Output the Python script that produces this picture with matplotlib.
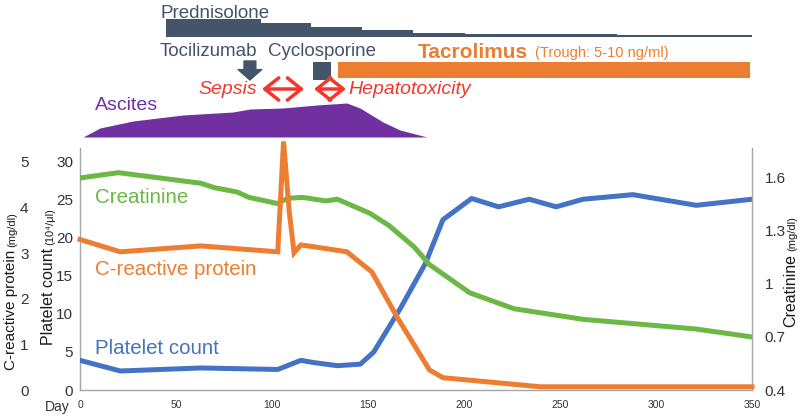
import matplotlib
matplotlib.use("Agg")
import matplotlib.pyplot as plt
from matplotlib.transforms import IdentityTransform

plt.rcParams['font.family'] = ['Liberation Sans', 'DejaVu Sans']

# lab values over the course (day of illness)
plt_days = [0, 21, 63, 103, 115, 122, 134, 146, 153, 167, 180, 189, 204, 218, 234, 248, 262, 288, 321, 350]
platelet = [3.9, 2.5, 2.9, 2.7, 3.9, 3.6, 3.2, 3.4, 5.0, 10.8, 16.7, 22.4, 25.2, 24.1, 25.1, 24.1, 25.1, 25.7, 24.3, 25.1]

crp_days = [0, 21, 63, 103, 106, 109, 111.5, 115, 122, 139, 152, 165, 182, 189, 240, 350]
crp = [3.3, 3.03, 3.16, 3.03, 5.45, 3.9, 3.01, 3.18, 3.14, 3.03, 2.59, 1.61, 0.44, 0.27, 0.07, 0.07]

cre_days = [0, 20, 63, 70, 82, 88, 103, 108, 116, 128, 134, 151, 161, 174, 182, 203, 226, 262, 321, 350]
creatinine = [1.60, 1.63, 1.57, 1.545, 1.52, 1.49, 1.455, 1.485, 1.49, 1.47, 1.48, 1.40, 1.33, 1.21, 1.11, 0.95, 0.86, 0.80, 0.745, 0.70]

# treatment timeline (relative scale for the tapering dose)
pred_days = [44.8, 94.3, 120.3, 146.9, 173.4, 200.3, 279.5, 350]
pred_dose = [18, 14.5, 10.5, 7, 4.5, 3, 2, 2]
toci_day = 88.5
cyclo_days = [121.4, 130.8]
tacro_days = [134.4, 349]

asc_days = [1.6, 10.4, 27.6, 53.6, 79.7, 88.5, 105.7, 123.4, 139, 145.8, 157.8, 166.7, 180.7]
ascites = [0, 9, 16, 22, 25, 28, 29, 32, 34, 29, 15, 7, 0]

x_ticks = [0, 50, 100, 150, 200, 250, 300, 350]
plt_ticks = [0, 5, 10, 15, 20, 25, 30]
crp_ticks = [0, 1, 2, 3, 4, 5]
cre_ticks = [0.4, 0.7, 1.0, 1.3, 1.6]
cre_labels = ['0.4', '0.7', '1', '1.3', '1.6']

slate = '#44546a'
orange = '#ed7d31'
green = '#6bb845'
blue = '#4472c4'
red = '#f2382c'
purple = '#7030a0'
grey = '#a6a6a6'

fig = plt.figure(figsize=(8, 4.16), dpi=100)

# ---- top timeline panel ----
top = fig.add_axes([0.1, 268 / 416, 0.84, 148 / 416])
top.set_xlim(0, 350)
top.set_ylim(0, 148)
top.axis('off')

base = 111
top.fill_between(pred_days, base, [base + d for d in pred_dose], step='post', color=slate, lw=0)
top.text(41.7, 135, 'Prednisolone', color=slate, fontsize=13.5, va='center')
top.text(41.7, 96, 'Tocilizumab', color=slate, fontsize=13.5, va='center')
top.text(98.1, 96, 'Cyclosporine', color=slate, fontsize=13.5, va='center')
top.text(176, 96, 'Tacrolimus', color=orange, fontsize=15, fontweight='bold', va='center')
top.text(237, 95, '(Trough: 5-10 ng/ml)', color=orange, fontsize=10.5, va='center')

top.annotate('', xy=(toci_day, 68), xytext=(toci_day, 87),
             arrowprops=dict(arrowstyle='simple,head_length=0.75,head_width=1.7,tail_width=0.85',
                             mutation_scale=10, color=slate, shrinkA=0, shrinkB=0))
top.fill_between(cyclo_days, 68, 86, color=slate, lw=0)
top.fill_between(tacro_days, 70, 86, color=orange, lw=0)

top.text(61.5, 58, 'Sepsis', color=red, fontsize=14, style='italic', va='center')
top.annotate('', xy=(94.8, 59), xytext=(116.7, 59),
             arrowprops=dict(arrowstyle='<->,head_length=0.5,head_width=0.4', mutation_scale=20,
                             color=red, lw=2.5, shrinkA=0, shrinkB=0))
top.annotate('', xy=(121.9, 59), xytext=(138.5, 59),
             arrowprops=dict(arrowstyle='<->,head_length=0.5,head_width=0.4', mutation_scale=20,
                             color=red, lw=2.5, shrinkA=0, shrinkB=0))
top.text(139.6, 58, 'Hepatotoxicity', color=red, fontsize=14, style='italic', va='center')

top.fill_between(asc_days, 11, [11 + a for a in ascites], color=purple, lw=0)
top.text(7.8, 43, 'Ascites', color=purple, fontsize=14, va='center')

# ---- main chart ----
ax = fig.add_axes([0.1, 26 / 416, 0.84, 242 / 416])
ax.patch.set_alpha(0)
ax_cre = ax.twinx()
ax_crp = ax.twinx()

ax.plot(plt_days, platelet, color=blue, lw=3.6, solid_joinstyle='round', zorder=3)
ax_cre.plot(cre_days, creatinine, color=green, lw=3.6, solid_joinstyle='round')
ax_crp.plot(crp_days, crp, color=orange, lw=3.6, solid_joinstyle='miter', clip_on=False)

ax.set_xlim(0, 350)
ax.set_ylim(0, 31.84)
ax_cre.set_ylim(0.4, 0.4 + 242 / 176.7)
ax_crp.set_ylim(0, 31.84 / 6)

ax.set_xticks(x_ticks)
ax.set_yticks(plt_ticks)
ax_cre.set_yticks(cre_ticks)
ax_cre.set_yticklabels(cre_labels)
ax_crp.set_yticks(crp_ticks)

# CRP scale sits left of the platelet scale
ax_crp.yaxis.tick_left()
ax_crp.spines['left'].set_position(('outward', 34))
for a in (ax, ax_cre, ax_crp):
    a.spines['top'].set_visible(False)
for s in ('left', 'right', 'bottom'):
    ax_crp.spines[s].set_visible(False)
ax.spines['right'].set_visible(False)
ax_cre.spines['left'].set_visible(False)
ax_cre.spines['bottom'].set_visible(False)
for sp in (ax.spines['left'], ax.spines['bottom'], ax_cre.spines['right']):
    sp.set_color(grey)
    sp.set_linewidth(1)

ax.tick_params(axis='y', length=0, labelsize=11, pad=5, labelcolor='#333333')
ax.tick_params(axis='x', length=0, labelsize=7.5, pad=7, labelcolor='#333333')
ax_cre.tick_params(axis='y', length=0, labelsize=11, pad=9, labelcolor='#333333')
ax_crp.tick_params(axis='y', length=0, labelsize=11, pad=3, labelcolor='#333333')

ax.text(8, 25.3, 'Creatinine', color=green, fontsize=14.8, va='center')
ax.text(8, 15.8, 'C-reactive protein', color=orange, fontsize=14.8, va='center')
ax.text(8, 5.5, 'Platelet count', color=blue, fontsize=14.8, va='center')

fig.text(45 / 800, 1 - 407 / 416, 'Day', fontsize=10, color='#333333', va='center')

# rotated axis titles with a smaller unit part
renderer = fig.canvas.get_renderer()


def side_label(x, y_start, parts):
    y = 416 - y_start
    for s, size in parts:
        txt = fig.text(x, y, s, fontsize=size, rotation=90, rotation_mode='anchor',
                       ha='left', va='baseline', transform=IdentityTransform(), color='#1a1a1a')
        bb = txt.get_window_extent(renderer)
        y = bb.y1 + 3


side_label(15, 370, [('C-reactive protein', 11), ('(mg/dl)', 8)])
side_label(53, 345, [('Platelet count', 11.5), ('(10\u2074/\u03bcl)', 8)])
side_label(795, 327, [('Creatinine', 11.5), ('(mg/dl)', 8)])

fig.savefig('out.png', dpi=100)
